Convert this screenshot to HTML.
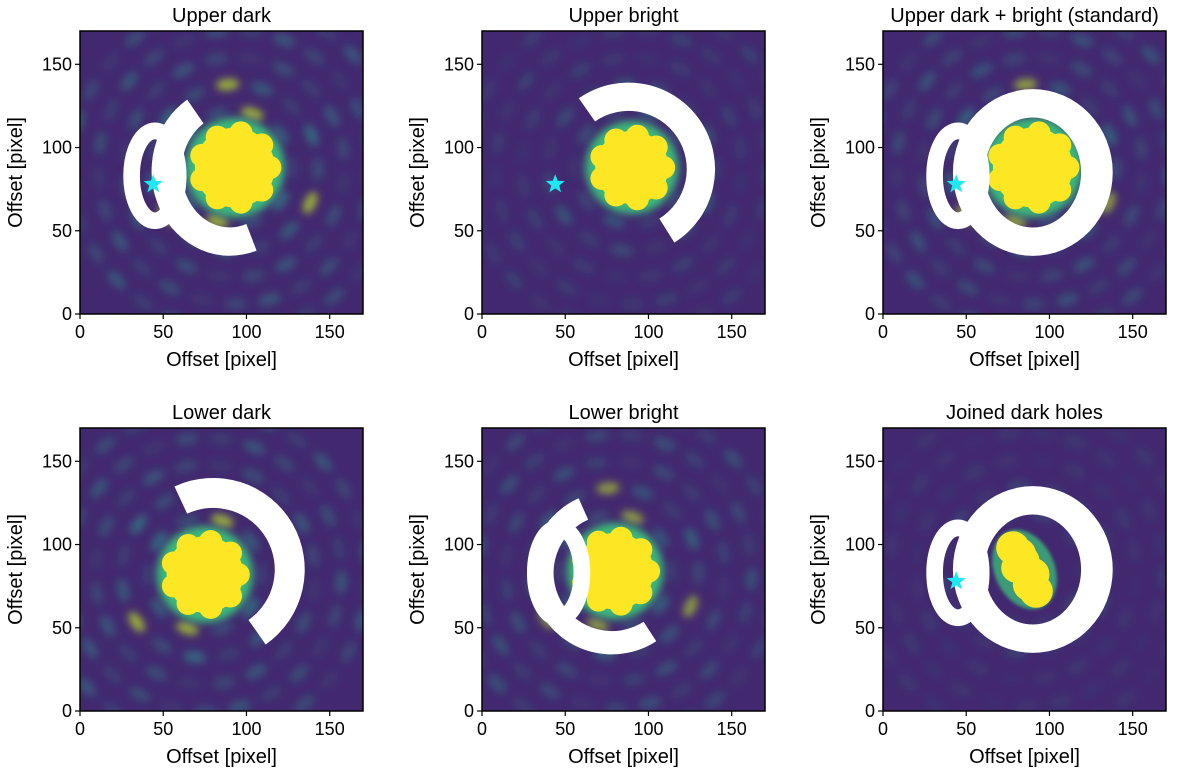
<!DOCTYPE html>
<html><head><meta charset="utf-8">
<style>
html,body{margin:0;padding:0;background:#fff;}
svg{display:block;font-family:"Liberation Sans",sans-serif;}
</style></head>
<body>
<svg id="fig" width="1200" height="777" viewBox="0 0 1200 777">
<defs>
<filter id="blur4" x="-50%" y="-50%" width="200%" height="200%"><feGaussianBlur stdDeviation="4"/></filter>
<filter id="blur2" x="-50%" y="-50%" width="200%" height="200%"><feGaussianBlur stdDeviation="1.6"/></filter>
</defs>
</svg>
<script>
// ---- data ----
const panelTitles = ["Upper dark","Upper bright","Upper dark + bright (standard)","Lower dark","Lower bright","Joined dark holes"];
const tickValues = [0,50,100,150];
const axisMax = 170;
const coreX = [93, 90, 90, 75, 80, 86];
const coreY = [88, 88, 88, 82, 84, 85];
const coreR = [27, 25, 27, 26, 26, 0];
const speckleLevel = [1.0, 0.55, 0.9, 1.0, 0.85, 0.35];
// white annulus mask (elliptical): center, inner/outer radii x & y, start/end angle (deg, CCW)
const maskCX = [90, 88, 90, 80, 78, 90];
const maskCY = [86, 87, 85, 85, 83, 85];
const maskRinX = [29, 35, 29, 37, 35, 29];
const maskRinY = [34, 35, 33, 37, 35, 33];
const maskRoutX = [47, 52, 48, 55, 49, 48];
const maskRoutY = [51, 52, 50, 55, 49, 50];
const maskA0 = [123, -58, 0, -55, 114, 0];
const maskA1 = [290, 125, 360, 115, 303, 360];
const loopShow = [1, 0, 1, 0, 1, 1];
const loopCX = [45, 45, 45, 45, 46, 45];
const loopCY = [83, 83, 83, 83, 83, 83];
const starShow = [1, 1, 1, 0, 0, 1];
const starX = [44, 44, 44, 44, 44, 44];
const starY = [78, 78, 78, 78, 78, 78];

const NS="http://www.w3.org/2000/svg";
const svg=document.getElementById('fig');
const colLeft=[80,482,883], rowTop=[31,428], W=283, H=283;
function mk(tag,attrs,parent){const e=document.createElementNS(NS,tag);for(const k in attrs)e.setAttribute(k,attrs[k]);(parent||svg).appendChild(e);return e;}

panelTitles.forEach((title,i)=>{
  const L=colLeft[i%3], T=rowTop[Math.floor(i/3)];
  const sx=v=>L+v/axisMax*W, sy=v=>T+H-v/axisMax*H, sr=v=>v/axisMax*W;
  const g=mk('g',{});
  
  
  const cp=mk('clipPath',{id:'cp'+i},g);
  mk('rect',{x:L,y:T,width:W,height:H},cp);
  const img=mk('g',{'clip-path':'url(#cp'+i+')'},g);
  
  
  mk('rect',{x:L,y:T,width:W,height:H,fill:'#42296f'},img);
  const sp=mk('g',{filter:'url(#blur4)'},img);
  const cx=coreX[i], cy=coreY[i];
  for(let ring=0;ring<5;ring++){
    const rad=34+ring*16, n=10+ring*5;
    for(let k=0;k<n;k++){
      const a=(k/n)*Math.PI*2+ring*0.4;
      const bright=((k*7+ring*3)%5);
      let op=(0.2+0.13*bright)*speckleLevel[i]*(ring<2?1:0.6);
      const col=(ring<2&&bright>3&&speckleLevel[i]>0.8)?'#b8dc2a':'#2a8c8a';
      const ex=sx(cx+rad*Math.cos(a)), ey=sy(cy+rad*Math.sin(a));
      mk('ellipse',{cx:ex,cy:ey,rx:sr(3.5),ry:sr(7),fill:col,opacity:op.toFixed(2),transform:'rotate('+(-a*180/Math.PI)+' '+ex+' '+ey+')'},sp);
    }
  }
  if(coreR[i]>0){
    mk('circle',{cx:sx(cx),cy:sy(cy),r:sr(coreR[i]+3),fill:'#3bb77a',filter:'url(#blur4)'},img);
    const cg=mk('g',{fill:'#fde725'},img);
    
    
    mk('circle',{cx:sx(cx),cy:sy(cy),r:sr(coreR[i]-3)},cg);
    for(let k=0;k<9;k++){const a=k/9*Math.PI*2;mk('circle',{cx:sx(cx+(coreR[i]-6)*Math.cos(a)),cy:sy(cy+(coreR[i]-6)*Math.sin(a)),r:sr(7)},cg);}
  } else {
    const cg=mk('g',{},img);
    
    
    mk('ellipse',{cx:sx(85),cy:sy(85),rx:sr(18),ry:sr(25),fill:'#3bb77a',opacity:0.8,filter:'url(#blur2)',transform:'rotate(-25 '+sx(85)+' '+sy(85)+')'},cg);
    const yb=mk('g',{fill:'#fde725'},cg);
    [[78,98,10],[84,90,10],[90,82,10],[92,72,10],[82,94,10],[88,76,10],[80,86,9]].forEach(p=>mk('circle',{cx:sx(p[0]),cy:sy(p[1]),r:sr(p[2])},yb));
  }
  const a0=maskA0[i]*Math.PI/180, a1=maskA1[i]*Math.PI/180;
  const mx=maskCX[i], my=maskCY[i];
  const rix=maskRinX[i], riy=maskRinY[i], rox=maskRoutX[i], roy=maskRoutY[i];
  let d;
  if(maskA1[i]-maskA0[i]>=360){
    d=`M${sx(mx+rox)},${sy(my)} A${sr(rox)},${sr(roy)} 0 1 0 ${sx(mx-rox)},${sy(my)} A${sr(rox)},${sr(roy)} 0 1 0 ${sx(mx+rox)},${sy(my)} Z M${sx(mx+rix)},${sy(my)} A${sr(rix)},${sr(riy)} 0 1 0 ${sx(mx-rix)},${sy(my)} A${sr(rix)},${sr(riy)} 0 1 0 ${sx(mx+rix)},${sy(my)} Z`;
  } else {
    const big=(maskA1[i]-maskA0[i])>180?1:0;
    const P=(rx,ry,a)=>sx(mx+rx*Math.cos(a))+','+sy(my+ry*Math.sin(a));
    d=`M${P(rox,roy,a0)} A${sr(rox)},${sr(roy)} 0 ${big} 0 ${P(rox,roy,a1)} L${P(rix,riy,a1)} A${sr(rix)},${sr(riy)} 0 ${big} 1 ${P(rix,riy,a0)} Z`;
  }
  const m=mk('path',{d:d,fill:'#fff','fill-rule':'evenodd'},img);
  
  
  if(loopShow[i]){
    const lp=mk('ellipse',{cx:sx(loopCX[i]),cy:sy(loopCY[i]),rx:sr(14),ry:sr(27),fill:'none',stroke:'#fff','stroke-width':sr(10)},img);
    
    
  }
  if(starShow[i]){
    const x0=sx(starX[i]), y0=sy(starY[i]), R=10, r=4.2;
    let pts=[];
    for(let k=0;k<10;k++){const a=-Math.PI/2+k*Math.PI/5, rr=k%2?r:R;pts.push((x0+rr*Math.cos(a)).toFixed(1)+','+(y0+rr*Math.sin(a)).toFixed(1));}
    const st=mk('polygon',{points:pts.join(' '),fill:'#1ee8f0'},img);
    
    
  }
  const fr=mk('rect',{x:L,y:T,width:W,height:H,fill:'none',stroke:'#000','stroke-width':1.5},g);
  
  
  tickValues.forEach(v=>{
    mk('line',{x1:sx(v),x2:sx(v),y1:T+H,y2:T+H+5,stroke:'#000','stroke-width':1.2},g);
    const tx=mk('text',{x:sx(v),y:T+H+24,'font-size':18,'text-anchor':'middle'},g);tx.textContent=v;
    
    
    mk('line',{x1:L-5,x2:L,y1:sy(v),y2:sy(v),stroke:'#000','stroke-width':1.2},g);
    const ty=mk('text',{x:L-8,y:sy(v)+6,'font-size':18,'text-anchor':'end'},g);ty.textContent=v;
    
    
  });
  const tt=mk('text',{x:L+W/2,y:T-9,'font-size':20,'text-anchor':'middle'},g);tt.textContent=title;
  
  
  const xl=mk('text',{x:L+W/2,y:T+H+52,'font-size':20,'text-anchor':'middle'},g);xl.textContent='Offset [pixel]';
  
  
  const yl=mk('text',{x:0,y:0,'font-size':20,'text-anchor':'middle',transform:`translate(${L-58},${T+H/2}) rotate(-90)`},g);yl.textContent='Offset [pixel]';
  
  
});
</script>
</body></html>
